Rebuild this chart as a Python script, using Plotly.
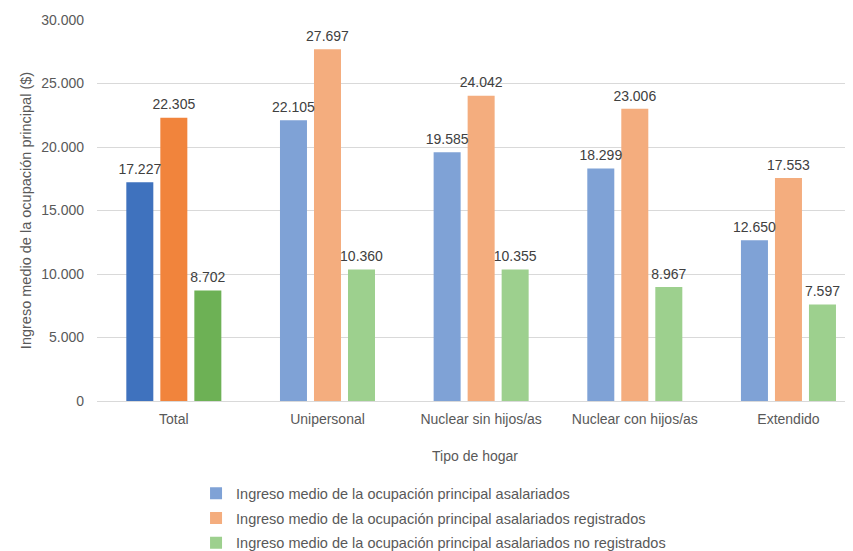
import plotly.graph_objects as go

categories = ["Total", "Unipersonal", "Nuclear sin hijos/as", "Nuclear con hijos/as", "Extendido"]
series_names = [
    "Ingreso medio de la ocupación principal asalariados",
    "Ingreso medio de la ocupación principal asalariados registrados",
    "Ingreso medio de la ocupación principal asalariados no registrados",
]
asalariados = [17227, 22105, 19585, 18299, 12650]
registrados = [22305, 27697, 24042, 23006, 17553]
no_registrados = [8702, 10360, 10355, 8967, 7597]
series_values = [asalariados, registrados, no_registrados]

light_colors = ["#7FA2D6", "#F4AD7E", "#9DD08E"]
dark_colors = ["#3F72BE", "#F1843C", "#6DB155"]

FONT = "Liberation Sans, Arial, sans-serif"
fig = go.Figure()

def add(name, x, y, color, legend):
    fig.add_trace(go.Bar(
        x=x, y=y, name=name, showlegend=legend,
        marker=dict(color=color, line=dict(width=0)),
        offsetgroup=name, legendgroup=name,
        cliponaxis=False,
    ))

for name, vals, lc in zip(series_names, series_values, light_colors):
    add(name, categories[1:], vals[1:], lc, True)
for name, vals, dc in zip(series_names, series_values, dark_colors):
    add(name, categories[:1], vals[:1], dc, False)

# data labels: grouped scatter text aligned with the bar groups
for name, vals in zip(series_names, series_values):
    fig.add_trace(go.Scatter(
        x=categories, y=vals, mode="markers+text", showlegend=False,
        offsetgroup=name, legendgroup=name,
        marker=dict(size=6, opacity=0),
        texttemplate="%{y:,}", textposition="top center",
        textfont=dict(size=14, color="#404040", family=FONT),
        hoverinfo="skip", cliponaxis=False,
    ))

# page body has an 8px margin, so the figure is sized/offset accordingly
fig.update_layout(
    width=845, height=543,
    margin=dict(l=89, r=0, t=12, b=150, autoexpand=False),
    paper_bgcolor="white", plot_bgcolor="white",
    separators=",.",
    barmode="group", bargap=0.336, bargroupgap=0.206,
    scattermode="group", scattergap=0.336,
    font=dict(family=FONT, size=14, color="#595959"),
    legend=dict(
        orientation="v", x=0.131, xanchor="left", y=-0.2, yanchor="top",
        font=dict(size=14.5, color="#595959"), tracegroupgap=3,
        traceorder="grouped",
    ),
)
fig.update_xaxes(
    type="category", categoryorder="array", categoryarray=categories,
    range=[-0.5, 4.42], automargin=False,
    showline=True, linecolor="#D9D9D9", linewidth=1,
    ticks="", tickfont=dict(size=14, color="#595959"), ticklabelstandoff=5,
    title=dict(text="Tipo de hogar", font=dict(size=14, color="#595959"), standoff=25),
)
fig.update_yaxes(
    range=[0, 30000], dtick=5000, tickformat=",d", automargin=False,
    showgrid=True, gridcolor="#D9D9D9", gridwidth=1,
    zeroline=False, showline=False, ticks="",
    tickfont=dict(size=14, color="#595959"), ticklabelstandoff=12,
    title=dict(text="Ingreso medio de la ocupación principal ($)",
               font=dict(size=14.5, color="#595959"), standoff=6),
)

fig.write_html("out.html")
